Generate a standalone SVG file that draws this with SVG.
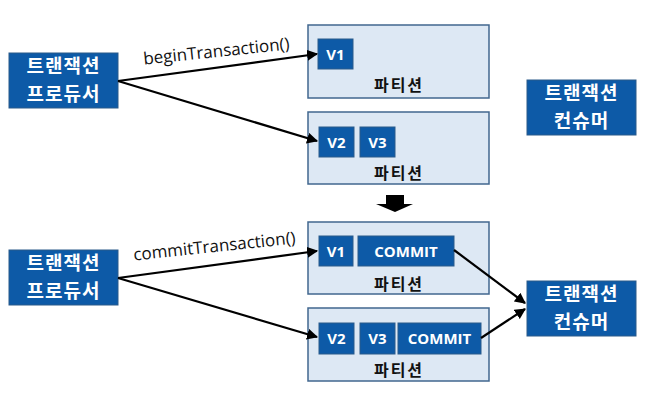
<svg xmlns="http://www.w3.org/2000/svg" width="650" height="394" viewBox="0 0 650 394">
<defs>
<style>
.blue{fill:#0d5aa7;stroke:#2a5a8a;stroke-width:1}
.part{fill:#dde8f4;stroke:#41678f;stroke-width:1.5}
.ko{font-family:"Noto Sans CJK KR","Noto Sans",sans-serif;font-weight:bold;text-anchor:middle}
.wt{fill:#ffffff;font-size:19px;letter-spacing:1px}
.pl{fill:#111;font-size:16px;letter-spacing:2px}
.vt{font-family:"Open Sans","Noto Sans",sans-serif;font-weight:bold;fill:#fff;font-size:15px;text-anchor:middle}
.lbl{font-family:"Open Sans","Noto Sans",sans-serif;fill:#111;font-size:17px;text-anchor:middle}
.ar{stroke:#000;stroke-width:2.2;fill:none;marker-end:url(#ah)}
</style>
<marker id="ah" viewBox="0 0 10 10" refX="9" refY="5" markerWidth="5" markerHeight="5" orient="auto" markerUnits="strokeWidth">
<path d="M0,0 L10,5 L0,10 z" fill="#000"/>
</marker>
</defs>
<rect width="650" height="394" fill="#fff"/>

<g id="producer1">
<rect class="blue" x="9" y="53" width="109" height="55"/>
<text class="ko wt" x="63.5" y="73">트랜잭션</text>
<text class="ko wt" x="63.5" y="101">프로듀서</text>
</g>
<g id="partition1">
<rect class="part" x="308" y="25" width="181" height="73"/>
<rect class="blue" x="318" y="39" width="35" height="30"/>
<text class="vt" x="335.5" y="59.5">V1</text>
<text class="ko pl" x="399" y="91">파티션</text>
</g>
<g id="partition2">
<rect class="part" x="308" y="112" width="181" height="72"/>
<rect class="blue" x="319" y="127" width="35" height="30"/>
<text class="vt" x="336.5" y="147.5">V2</text>
<rect class="blue" x="360" y="127" width="35" height="30"/>
<text class="vt" x="377.5" y="147.5">V3</text>
<text class="ko pl" x="399" y="179">파티션</text>
</g>
<g id="consumer1">
<rect class="blue" x="527" y="80" width="109" height="55"/>
<text class="ko wt" x="581.5" y="100">트랜잭션</text>
<text class="ko wt" x="581.5" y="128">컨슈머</text>
</g>

<g id="downarrow">
<path d="M386,195 H404 V204 H413 L395,212 L376,204 H386 Z" fill="#000"/>
</g>

<g id="producer2">
<rect class="blue" x="9" y="250" width="109" height="55"/>
<text class="ko wt" x="63.5" y="270">트랜잭션</text>
<text class="ko wt" x="63.5" y="298">프로듀서</text>
</g>
<g id="partition3">
<rect class="part" x="308" y="222" width="181" height="72"/>
<rect class="blue" x="319" y="236" width="34" height="30"/>
<text class="vt" x="336" y="256.5">V1</text>
<rect class="blue" x="358" y="236" width="96" height="30"/>
<text class="vt" x="406" y="256.5">COMMIT</text>
<text class="ko pl" x="399" y="290">파티션</text>
</g>
<g id="partition4">
<rect class="part" x="308" y="308" width="181" height="73"/>
<rect class="blue" x="319" y="323" width="35" height="31"/>
<text class="vt" x="336.5" y="344">V2</text>
<rect class="blue" x="360" y="323" width="35" height="31"/>
<text class="vt" x="377.5" y="344">V3</text>
<rect class="blue" x="398" y="323" width="83" height="31"/>
<text class="vt" x="439.5" y="344">COMMIT</text>
<text class="ko pl" x="399" y="376">파티션</text>
</g>
<g id="consumer2">
<rect class="blue" x="527" y="281" width="109" height="55"/>
<text class="ko wt" x="581.5" y="301">트랜잭션</text>
<text class="ko wt" x="581.5" y="329">컨슈머</text>
</g>

<g id="connectors">
<line class="ar" x1="118" y1="81" x2="317" y2="54"/>
<line class="ar" x1="118" y1="81" x2="317" y2="141"/>
<line class="ar" x1="118" y1="278" x2="317" y2="251"/>
<line class="ar" x1="118" y1="278" x2="317" y2="337"/>
<line class="ar" x1="454" y1="250" x2="525" y2="303"/>
<line class="ar" x1="481" y1="338" x2="525" y2="309"/>
<text class="lbl" transform="translate(217,57) rotate(-6)">beginTransaction()</text>
<text class="lbl" transform="translate(215,252) rotate(-6)">commitTransaction()</text>
</g>
</svg>
